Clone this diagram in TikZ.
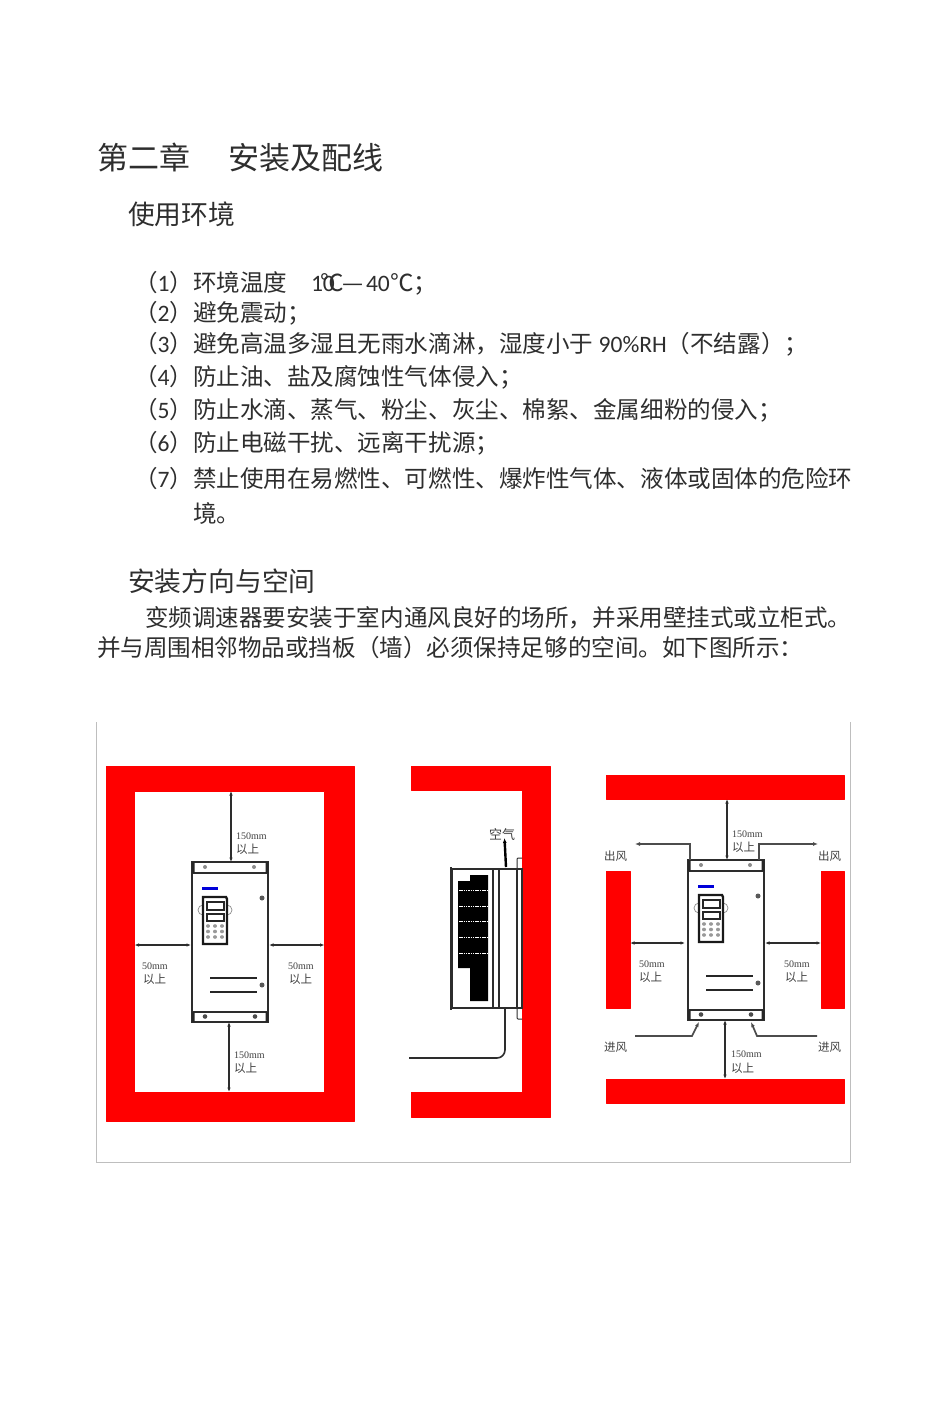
\documentclass[tikz,border=0pt]{standalone}
\usepackage{fontspec}
\setmainfont{Noto Sans CJK SC}
\newfontfamily\lat{Carlito}
\newfontfamily\dimfont{Liberation Serif}
\newcommand{\ltn}[1]{{\lat #1}}
\usetikzlibrary{arrows.meta}
\definecolor{redwall}{RGB}{255,0,0}
\definecolor{inkgray}{RGB}{45,45,45}
\definecolor{framegray}{RGB}{190,190,190}
\tikzset{
  txt/.style={anchor=base west,inner sep=0pt,outer sep=0pt,text=black!82},
  headA/.style={txt,font=\fontsize{31}{31}\selectfont},
  headB/.style={txt,font=\fontsize{26.8}{27}\selectfont},
  body/.style={txt,font=\fontsize{23.55}{24}\selectfont},
  small/.style={txt,text=black!75,font=\fontsize{11.5}{12}\selectfont},
  mm/.style={txt,text=black!75,font=\dimfont\fontsize{10}{12}\selectfont},
  wall/.style={fill=redwall,draw=redwall,line width=.5pt,line join=round},
  dim/.style={draw=inkgray,line width=1.5pt,{Latex[length=4.5pt,width=3.5pt]}-{Latex[length=4.5pt,width=3.5pt]}},
  wind/.style={draw=inkgray!85,line width=1.7pt,-{Latex[length=5pt,width=4pt]}},
  casing/.style={draw=inkgray,line width=1.6pt},
  pics/drive/.style={code={
    \draw[casing,fill=white] (0,0) rectangle (76,160);
    \draw[casing] (0,11) -- (76,11) (0,150) -- (76,150);
    \fill[black!85] (0,0) rectangle (2.500,11) (73.500,0) rectangle (76,11) (0,150) rectangle (2.500,160) (73.500,150) rectangle (76,160);
    \fill[black!45] (13,5) circle (2) (62,5) circle (2);
    \fill[black!70] (13,154.500) circle (2.300) (63,154.500) circle (2.300);
    \fill[black!65] (70,36) circle (2.500) (70,123) circle (2.500);
    \fill[blue!85!black] (10,25) rectangle (26,28);
    \draw[black!45,line width=.7pt] (11,53) arc (90:270:5) (35,53) arc (90:-90:5);
    \draw[black!90,line width=2.400pt,fill=white] (11,35) -- (34,35) -- (35,37) -- (35,82) -- (11,82) -- cycle;
    \draw[black!85,line width=1.5pt] (15,40) rectangle (32,48) (15,52) rectangle (32,59);
    \foreach \bx in {16,23,30} \foreach \by in {64,69.500,75} {\fill[black!40] (\bx,\by) ellipse (2 and 1.800);}
    \draw[black!85,line width=1.3pt] (18,116) -- (65,116) (18,130) -- (65,130);
  }},
}
\begin{document}
\begin{tikzpicture}[x=1pt,y=-1pt]
\useasboundingbox (0,0) rectangle (950,1412);
\fill[white] (0,0) rectangle (950,1412);
% page text
\node[headA] (h1a) at (97,170) {第二章};
\node[headA] (h1b) at (228,170) {安装及配线};
\node[headB] (h2a) at (128,225) {使用环境};
\node[body] (l1) at (134,291) {（\ltn{1}）环境温度};
\node[body] (l1a) at (311,291) {\ltn{10}};
\node[body] (l1b) at (320,291) {℃};
\node[body] (l1c) at (342,291) {—};
\node[body] (l1d) at (366,291) {\ltn{40}};
\node[body] (l1e) at (390,291) {℃；};
\node[body] (l2) at (134,321) {（\ltn{2}）避免震动；};
\node[body] (l3) at (134,352) {（\ltn{3}）避免高温多湿且无雨水滴淋，湿度小于\ltn{ 90\%RH}（不结露）；};
\node[body] (l4) at (134,385) {（\ltn{4}）防止油、盐及腐蚀性气体侵入；};
\node[body] (l5) at (134,418) {（\ltn{5}）防止水滴、蒸气、粉尘、灰尘、棉絮、金属细粉的侵入；};
\node[body] (l6) at (134,451) {（\ltn{6}）防止电磁干扰、远离干扰源；};
\node[body] (l7) at (134,487) {（\ltn{7}）禁止使用在易燃性、可燃性、爆炸性气体、液体或固体的危险环};
\node[body] (l7b) at (193,522) {境。};
\node[headB] (h2b) at (128,591) {安装方向与空间};
\node[body] (p1) at (145,626) {变频调速器要安装于室内通风良好的场所，并采用壁挂式或立柜式。};
\node[body] (p2) at (97,656) {并与周围相邻物品或挡板（墙）必须保持足够的空间。如下图所示：};
% figure frame
\draw[framegray,line width=.8pt] (96.500,722) -- (96.500,1162) -- (850.500,1162) -- (850.500,722);
% left: walls
\fill[wall,even odd rule] (106,766) rectangle (354,1121) (134.300,791) rectangle (324.700,1092);
\pic (dl) at (192,862) {drive};
\coordinate (a1) at (231,791); \coordinate (a2) at (231,862);
\coordinate (a3) at (229,1022); \coordinate (a4) at (229,1092);
\coordinate (a5) at (134.500,945); \coordinate (a6) at (191,945);
\coordinate (a7) at (269,945); \coordinate (a8) at (324.500,945);
\draw[dim] (a1) -- (a2);
\draw[dim] (a3) -- (a4);
\draw[dim] (a5) -- (a6);
\draw[dim] (a7) -- (a8);
\node[mm] (t1) at (236,839) {150mm};
\node[small] (t2) at (236,853) {以上};
\node[mm] (t3) at (234,1058) {150mm};
\node[small] (t4) at (234,1072) {以上};
\node[mm] (t5) at (142,969) {50mm};
\node[small] (t6) at (143,983) {以上};
\node[mm] (t7) at (288,969) {50mm};
\node[small] (t8) at (289,983) {以上};
% middle: wall and side view
\fill[wall] (411,766) -- (550,766) -- (550,1117) -- (411,1117) -- (411,1092) -- (522,1092) -- (522,790) -- (411,790) -- cycle;
\fill[black] (470,875) -- (488,875) -- (488,1001) -- (470,1001) -- (470,968) -- (458,968) -- (458,881) -- (470,881) -- cycle;
\foreach \wy in {890,906,921,937,953} {\draw[white,line width=.9pt,dash pattern=on 1.5pt off .8pt] (459,\wy) -- (487,\wy);}
\draw[casing] (452,869) rectangle (522,1008);
\draw[casing] (493,869) -- (493,1008) (499,869) -- (499,1008) (517,869) -- (517,1008);
\draw[casing] (451,867) -- (451,1010);
\draw[inkgray,line width=1pt,rounded corners=1pt] (522,858) -- (517,858) -- (517,869);
\draw[inkgray,line width=1pt,rounded corners=1pt] (517,1008) -- (517,1019) -- (522,1019);
\coordinate (air1) at (506,867); \coordinate (air2) at (504.500,838);
\draw[-{Latex[length=5pt,width=4pt]},draw=black,line width=2.400pt] (air1) -- (air2);
\coordinate (cab1) at (505,1008); \coordinate (cab2) at (505,1058); \coordinate (cab3) at (409,1058);
\draw[inkgray,line width=1.6pt,rounded corners=8pt] (cab1) -- (cab2) -- (cab3);
\node[small,font=\fontsize{13}{13}\selectfont] (air) at (489,839) {空气};
% right: walls
\fill[wall] (606,775) rectangle (844,799);
\fill[wall] (606,1079) rectangle (844,1103);
\fill[wall] (606,871) rectangle (630,1008);
\fill[wall] (821,871) rectangle (844,1008);
\pic (dr) at (688,860) {drive};
\coordinate (b1) at (727,799); \coordinate (b2) at (727,860);
\coordinate (b3) at (725,1020); \coordinate (b4) at (725,1079);
\coordinate (b5) at (630,943); \coordinate (b6) at (685,943);
\coordinate (b7) at (765,943); \coordinate (b8) at (821,943);
\draw[dim] (b1) -- (b2);
\draw[dim] (b3) -- (b4);
\draw[dim] (b5) -- (b6);
\draw[dim] (b7) -- (b8);
\coordinate (o1) at (690,860); \coordinate (o2) at (690,844); \coordinate (o3) at (635,844);
\coordinate (o4) at (759,860); \coordinate (o5) at (759,844); \coordinate (o6) at (818,844);
\coordinate (i1) at (635,1036); \coordinate (i2) at (692,1036); \coordinate (i3) at (699,1022);
\coordinate (i4) at (817,1036); \coordinate (i5) at (757,1036); \coordinate (i6) at (751,1022);
\draw[wind] (o1) -- (o2) -- (o3);
\draw[wind] (o4) -- (o5) -- (o6);
\draw[wind] (i1) -- (i2) -- (i3);
\draw[wind] (i4) -- (i5) -- (i6);
\node[mm] (r1) at (732,837) {150mm};
\node[small] (r2) at (732,851) {以上};
\node[mm] (r3) at (731,1057) {150mm};
\node[small] (r4) at (731,1072) {以上};
\node[mm] (r5) at (639,967) {50mm};
\node[small] (r6) at (639,981) {以上};
\node[mm] (r7) at (784,967) {50mm};
\node[small] (r8) at (785,981) {以上};
\node[small] (r9) at (604,860) {出风};
\node[small] (r10) at (818,860) {出风};
\node[small] (r11) at (604,1051) {进风};
\node[small] (r12) at (818,1051) {进风};
\end{tikzpicture}
\end{document}
